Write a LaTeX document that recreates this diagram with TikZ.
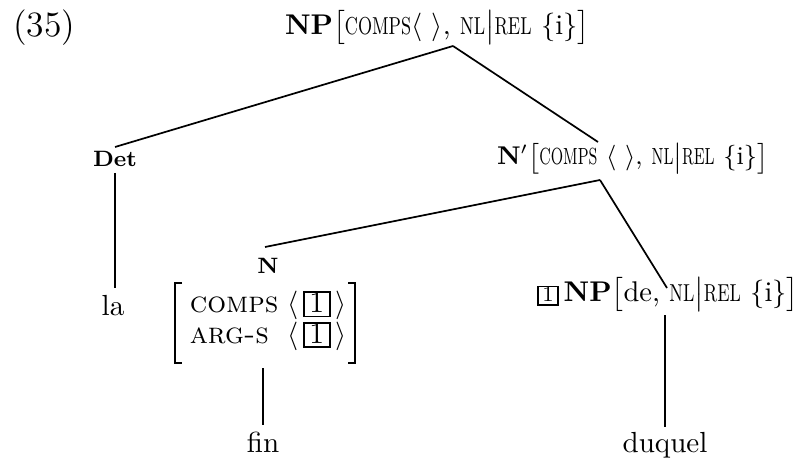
\documentclass[tikz,border=0pt]{standalone}
\usepackage{amsmath}
\usepackage{graphicx}
\newcommand{\nc}[1]{\scalebox{0.72}[1]{\fontsize{8.6}{10}\selectfont #1}}
\newcommand{\ncs}[1]{\scalebox{0.64}[1]{\fontsize{8.2}{10}\selectfont #1}}
\newcommand{\bxavm}{{\setlength{\fboxsep}{0pt}\setlength{\fboxrule}{0.6pt}\fbox{\rule[-0.9pt]{0pt}{7.2pt}\hspace{1.6pt}1\hspace{1.6pt}}}}
\newcommand{\bxnp}{{\setlength{\fboxsep}{0pt}\setlength{\fboxrule}{0.55pt}\fbox{\rule[-0.8pt]{0pt}{5.9pt}\hspace{1.3pt}\fontsize{7.5}{8}\selectfont 1\hspace{1.3pt}}}}
\begin{document}
\begin{tikzpicture}[x=0.3509pt,y=-0.3509pt,
  lbl/.style={inner sep=0pt,outer sep=0pt},
  edge/.style={line width=0.6pt},
  brk/.style={line width=0.9pt},
  cat/.style={lbl,font=\fontsize{10}{12}\selectfont},
  small/.style={lbl,font=\fontsize{7.8}{9}\selectfont\bfseries},
  word/.style={lbl,font=\fontsize{10.2}{12}\selectfont}]
\useasboundingbox (0,0) rectangle (804,461);
\fill[white] (0,0) rectangle (804,461);
% labels
\node[lbl,font=\fontsize{12.5}{15}\selectfont,anchor=base west] (num) at (13,37) {(35)};
\node[cat,anchor=base west] (np) at (285,35) {\textbf{NP}$\bigl[$\nc{COMPS}$\langle\ \rangle$, \nc{NL}$\big|$\nc{REL} $\{$i$\}\bigr]$};
\node[small,anchor=base] (det) at (115,167) {Det};
\node[lbl,font=\fontsize{9}{11}\selectfont,anchor=base west] (nbar) at (497,165) {\textbf{N}$'\bigl[$\ncs{COMPS} $\langle\ \rangle$, \ncs{NL}$\big|$\ncs{REL} $\{$i$\}\bigr]$};
\node[small,anchor=base] (n) at (268,273) {N};
\node[word,anchor=base] (la) at (113,315) {la};
\node[lbl,font=\fontsize{10.4}{10.6}\selectfont,anchor=center] (avm) at (268,322)
  {\begin{tabular}{@{}l@{\hspace{3.2pt}}l@{}}\textsc{comps} & $\langle\hspace{1.6pt}\bxavm\hspace{1.6pt}\rangle$\\ \textsc{arg-s} & $\langle\hspace{1.6pt}\bxavm\hspace{1.6pt}\rangle$\end{tabular}};
\node[cat,anchor=base west] (np2) at (537,302) {\bxnp\,\textbf{NP}$\bigl[$de, \nc{NL}$\big|$\nc{REL} $\{$i$\}\bigr]$};
\node[word,anchor=base] (fin) at (263,452) {fin};
\node[word,anchor=base] (duq) at (665,452) {duquel};
% AVM brackets
\draw[brk] (182,283) -- (175,283) -- (175,363) -- (182,363);
\draw[brk] (348,283) -- (355,283) -- (355,363) -- (348,363);
% attachment points
\coordinate (npB) at (453,46);
\coordinate (detT) at (115,147);
\coordinate (detB) at (115,173);
\coordinate (laT) at (115,288);
\coordinate (nbarT) at (598,142);
\coordinate (nbarB) at (600,180);
\coordinate (nT) at (265,247);
\coordinate (np2T) at (667,288);
\coordinate (np2B) at (665,315);
\coordinate (duqT) at (665,427);
\coordinate (avmB) at (263,368);
\coordinate (finT) at (263,425);
% edges
\draw[edge] (npB) -- (detT);
\draw[edge] (npB) -- (nbarT);
\draw[edge] (detB) -- (laT);
\draw[edge] (nbarB) -- (nT);
\draw[edge] (nbarB) -- (np2T);
\draw[edge] (np2B) -- (duqT);
\draw[edge] (avmB) -- (finT);
\end{tikzpicture}
\end{document}
